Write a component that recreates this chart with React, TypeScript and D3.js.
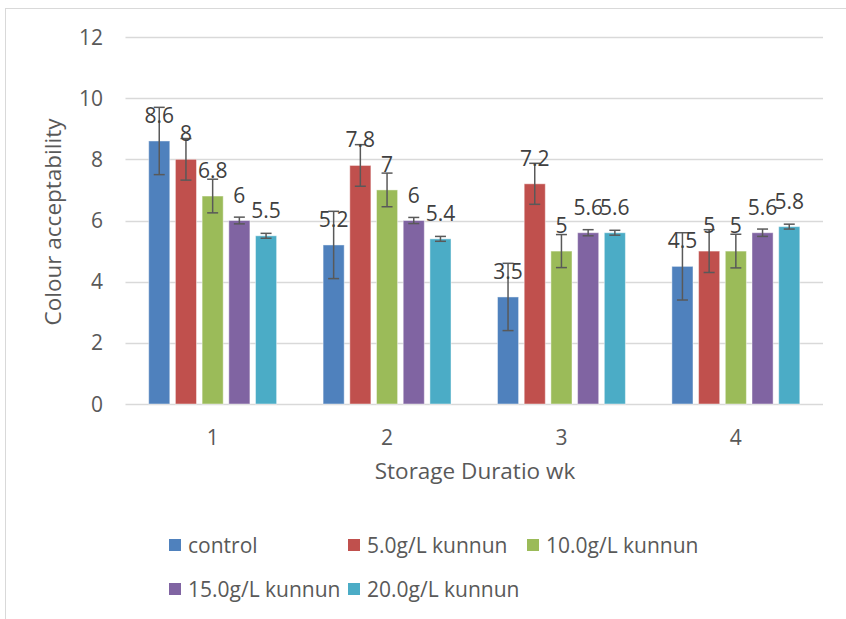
import React from "react";
import * as d3 from "d3";

const categories = ["1", "2", "3", "4"];
const seriesNames = ["control", "5.0g/L kunnun", "10.0g/L kunnun", "15.0g/L kunnun", "20.0g/L kunnun"];
const control = [8.6, 5.2, 3.5, 4.5];
const k5 = [8, 7.8, 7.2, 5];
const k10 = [6.8, 7, 5, 5];
const k15 = [6, 6, 5.6, 5.6];
const k20 = [5.5, 5.4, 5.6, 5.8];
const errControl = [1.1, 1.1, 1.1, 1.1];
const err5 = [0.68, 0.68, 0.67, 0.7];
const err10 = [0.55, 0.55, 0.54, 0.55];
const err15 = [0.11, 0.1, 0.1, 0.12];
const err20 = [0.08, 0.08, 0.08, 0.08];
const yTicks = [0, 2, 4, 6, 8, 10, 12];
const colors = ["#4F81BD", "#C0504D", "#9BBB59", "#8064A2", "#4BACC6"];

const values = [control, k5, k10, k15, k20];
const errors = [errControl, err5, err10, err15, err20];

const W = 846;
const H = 619;
const FONT = "'Open Sans', Lato, sans-serif";
const TEXT = "#595959";

export default function App() {
  const x0 = d3.scaleBand<string>().domain(categories).range([125.5, 823]).paddingInner(0.2665).paddingOuter(0.133);
  const x1 = d3.scaleBand<number>().domain(d3.range(seriesNames.length)).range([0, x0.bandwidth()]).paddingInner(0.21);
  const y = d3.scaleLinear().domain([0, 12]).range([404, 37]);
  const capW = 11;

  const legendPos = [
    [169, 545],
    [348, 545],
    [527, 545],
    [169, 589],
    [348, 589],
  ];

  return (
    <svg width={W} height={H} style={{ position: "absolute", left: 0, top: 0, display: "block" }}>
      <rect x={0} y={0} width={W} height={H} fill="#fff" />
      <rect x={5.5} y={8.5} width={W + 10} height={H + 10} fill="none" stroke="#D9D9D9" strokeWidth={1} />
      {yTicks.map((t) => (
        <g key={t}>
          <line x1={125.5} x2={823} y1={Math.round(y(t)) + 0.5} y2={Math.round(y(t)) + 0.5} stroke="#D9D9D9" strokeWidth={1.5} />
          <text x={103} y={y(t)} dy="0.36em" textAnchor="end" fontFamily={FONT} fontSize={21} fill={TEXT}>
            {t}
          </text>
        </g>
      ))}
      {categories.map((c) => (
        <text key={c} x={(x0(c) as number) + x0.bandwidth() / 2} y={437} dy="0.36em" textAnchor="middle" fontFamily={FONT} fontSize={21} fill={TEXT}>
          {c}
        </text>
      ))}
      {values.map((vals, si) =>
        vals.map((v, ci) => {
          const cx = (x0(categories[ci]) as number) + (x1(si) as number);
          const bw = x1.bandwidth();
          const mid = cx + bw / 2;
          const e = errors[si][ci];
          return (
            <g key={`${si}-${ci}`}>
              <rect x={cx} y={y(v)} width={bw} height={y(0) - y(v)} fill={colors[si]} stroke="#ffffff" strokeOpacity={0.45} strokeWidth={1} />
              <line x1={mid} x2={mid} y1={y(v + e)} y2={y(v - e)} stroke="#595959" strokeWidth={1.5} />
              <line x1={mid - capW / 2} x2={mid + capW / 2} y1={y(v + e)} y2={y(v + e)} stroke="#595959" strokeWidth={1.5} />
              <line x1={mid - capW / 2} x2={mid + capW / 2} y1={y(v - e)} y2={y(v - e)} stroke="#595959" strokeWidth={1.5} />
            </g>
          );
        })
      )}
      {values.map((vals, si) =>
        vals.map((v, ci) => {
          const mid = (x0(categories[ci]) as number) + (x1(si) as number) + x1.bandwidth() / 2;
          return (
            <text key={`l${si}-${ci}`} x={mid} y={y(v) - 18} textAnchor="middle" fontFamily={FONT} fontSize={21} fill="#404040">
              {String(v)}
            </text>
          );
        })
      )}
      <text transform={`translate(61, 222) rotate(-90)`} textAnchor="middle" fontFamily={FONT} fontSize={22.5} fill={TEXT}>
        Colour acceptability
      </text>
      <text x={475} y={479} textAnchor="middle" fontFamily={FONT} fontSize={22.5} fill={TEXT}>
        Storage Duratio wk
      </text>
      {seriesNames.map((s, i) => (
        <g key={s}>
          <rect x={legendPos[i][0]} y={legendPos[i][1] - 6} width={12} height={12} fill={colors[i]} />
          <text x={legendPos[i][0] + 19} y={legendPos[i][1]} dy="0.36em" fontFamily={FONT} fontSize={21} fill={TEXT}>
            {s}
          </text>
        </g>
      ))}
    </svg>
  );
}
